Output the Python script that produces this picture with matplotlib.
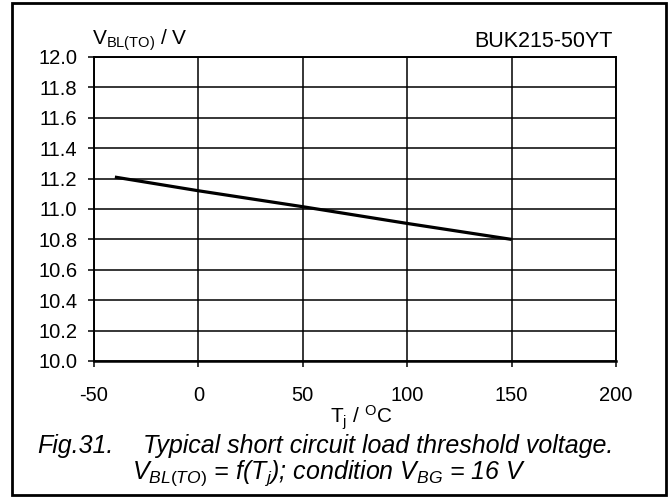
import matplotlib
matplotlib.use("Agg")
import matplotlib.pyplot as plt
from matplotlib.patches import Rectangle

plt.rcParams['font.family'] = ['Liberation Sans', 'DejaVu Sans']
plt.rcParams['mathtext.fontset'] = 'custom'
plt.rcParams['mathtext.rm'] = 'Liberation Sans'
plt.rcParams['mathtext.it'] = 'Liberation Sans:italic'

# curve
tj = [-40, 0, 50, 100, 150]
vbl = [11.21, 11.12, 11.015, 10.905, 10.80]

xticks = [-50, 0, 50, 100, 150, 200]
yticks = [10.0, 10.2, 10.4, 10.6, 10.8, 11.0, 11.2, 11.4, 11.6, 11.8, 12.0]

W, H = 669, 497
fig = plt.figure(figsize=(W / 100, H / 100), dpi=100)
# axes box in pixels: x 94..616, y 57..361
ax = fig.add_axes([94 / W, 1 - 361 / H, 522 / W, 304 / H])

ax.plot(tj, vbl, color='black', lw=2.3, solid_capstyle='butt')

ax.set_xlim(-50, 200)
ax.set_ylim(10.0, 12.0)
ax.set_xticks(xticks)
ax.set_yticks(yticks)
ax.set_xticklabels([str(t) for t in xticks])
ax.set_yticklabels([f"{v:.1f}" for v in yticks])
ax.grid(True, color='black', lw=1.1)
ax.tick_params(direction='out', length=4, width=1.1, labelsize=14.5)
ax.tick_params(axis='x', pad=14)
ax.tick_params(axis='y', pad=8)
for s in ax.spines.values():
    s.set_linewidth(1.4)
ax.spines['bottom'].set_linewidth(1.8)

fig.text(92 / W, 1 - 45 / H, r'V$_\mathrm{BL(TO)}$ / V', fontsize=15,
         ha='left', va='baseline')
fig.text(613 / W, 1 - 47 / H, 'BUK215-50YT', fontsize=15.5,
         ha='right', va='baseline')
fig.text(361 / W, 1 - 423 / H, r'T$_\mathrm{j}$ / $^\mathrm{O}$C', fontsize=15,
         ha='center', va='baseline')

# caption, two tight lines as in the datasheet
fig.text(37 / W, 1 - 453 / H, 'Fig.31.', fontsize=18, style='italic',
         ha='left', va='baseline')
fig.text(143 / W, 1 - 453 / H, 'Typical short circuit load threshold voltage.',
         fontsize=18, style='italic', ha='left', va='baseline')
fig.text(132 / W, 1 - 479 / H,
         r'$V_{BL(TO)}$ = f(T$_j$); condition $V_{BG}$ = 16 V',
         fontsize=18, style='italic', ha='left', va='baseline')

fig.patches.append(Rectangle((12 / W, 1 - 495 / H), 654 / W, 492 / H,
                             transform=fig.transFigure, fill=False,
                             edgecolor='black', lw=2))

fig.savefig('out.png', dpi=100)
